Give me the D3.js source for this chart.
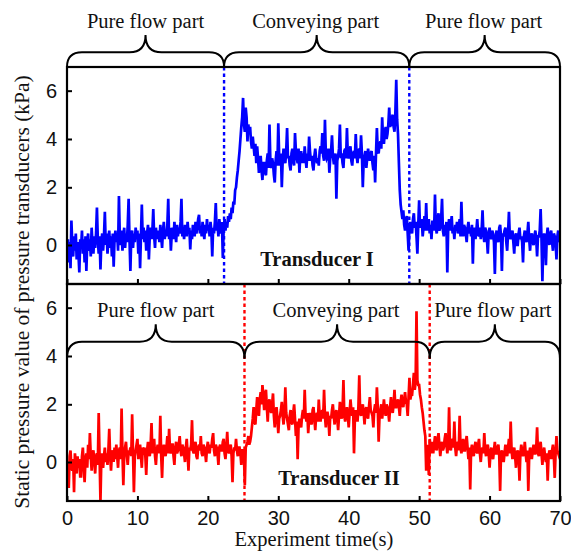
<!DOCTYPE html>
<html>
<head>
<meta charset="utf-8">
<script src="https://cdn.jsdelivr.net/npm/d3@7"></script>
<style>
  body { margin: 0; background: #fff; }
  svg { display: block; font-family: "Liberation Serif", "Times New Roman", serif; }
  .tick text { fill: #111; }
</style>
</head>
<body>
<div id="chart"></div>
<script>
// sample step of both records (s)
const sampleStep = 0.125;

// Transducer I, static pressure (kPa), one row per second
const transducerI = [
  -0.3, 0.2, -0.6, 0.1, -0.8, 0.85, 0.0, -0.4,
  0.3, -0.2, 0.4, -0.5, 0.1, -0.3, -0.95, 0.2,
  -0.1, 0.5, -0.3, 0.2, -0.6, 0.3, -0.9, 0.1,
  0.4, -0.2, 0.2, -0.4, 0.6, 0.0, -0.3, 0.3,
  -0.1, 0.4, 1.3, 0.2, -0.3, 0.3, -0.85, 0.1,
  0.4, -0.2, 0.3, 1.15, 0.0, 0.4, -0.3, 0.2,
  0.5, -0.1, 0.3, -0.4, 0.4, -0.75, 0.2, 0.5,
  0.1, 0.4, -0.2, 1.7, 0.3, 0.0, 0.5, -0.2,
  0.3, 0.6, -0.1, 0.4, 0.1, 0.7, 1.6, 0.2,
  -0.9, 0.3, 0.5, -0.1, 0.4, 0.1, 0.6, 0.2,
  0.5, -0.3, 0.4, -0.8, 0.3, 1.4, 0.2, 0.6,
  0.1, 0.5, -0.2, 0.4, 0.7, -0.5, 0.3, 0.6,
  0.2, 0.5, 1.25, 0.3, -0.1, 0.6, 0.2, 0.5,
  0.4, 0.1, 0.7, 0.3, -0.1, 0.5, 0.8, 0.2,
  0.5, 0.3, 0.7, 1.6, 0.2, 0.6, -0.2, 0.4,
  0.6, 0.2, 0.8, 0.4, 0.1, 0.7, 0.3, 0.6,
  0.4, 0.8, 1.6, 0.3, 0.6, 0.2, 0.7, 0.5,
  0.3, 0.8, 0.4, 0.6, -0.15, 0.5, 0.2, 0.7,
  0.5, 0.3, 0.8, 0.4, 0.6, 0.9, 1.05, 0.4,
  0.6, 0.3, 0.8, 0.5, 0.2, 0.7, 0.4, 0.9,
  0.5, 0.7, 0.3, 0.8, 0.5, -0.4, 0.6, 0.4,
  0.8, 1.45, 0.5, 0.7, 0.3, 0.9, 0.6, 0.4,
  0.8, -0.45, 0.6, 0.9, 0.5, 0.8, 0.6, 1.0,
  0.8, 1.1, 0.9, 1.3, 1.1, 1.5, 1.4, 1.9,
  2.0, 2.4, 2.7, 3.1, 3.5, 4.0, 4.5, 4.9,
  5.7, 4.6, 4.3, 5.3, 4.9, 3.9, 4.6, 4.2,
  4.5, 3.9, 3.6, 4.1, 3.7, 3.3, 3.8, 3.0,
  3.7, 3.2, 2.6, 3.1, 3.3, 2.7, 2.3, 3.0,
  3.0, 2.6, 2.5, 3.1, 3.4, 2.8, 4.6, 3.1,
  2.8, 3.2, 3.0, 2.5, 2.2, 3.1, 3.5, 2.9,
  4.65, 3.3, 2.9, 3.4, 2.0, 3.1, 3.6, 3.2,
  3.0, 3.5, 4.45, 3.2, 3.3, 2.9, 2.7, 3.4,
  3.6, 3.1, 2.9, 4.25, 3.5, 3.2, 3.0, 3.6,
  2.6, 3.3, 3.5, 3.0, 3.4, 3.0, 3.7, 3.2,
  2.8, 3.4, 3.1, 4.1, 3.5, 3.1, 3.3, 2.9,
  2.7, 3.3, 3.6, 3.2, 3.0, 3.2, 2.9, 3.5,
  3.7, 3.4, 4.25, 3.3, 3.1, 4.8, 3.4, 3.2,
  3.3, 3.6, 2.6, 3.2, 3.5, 4.15, 3.3, 3.0,
  3.0, 3.4, 1.6, 3.1, 3.3, 3.6, 4.6, 3.2,
  3.4, 3.0, 2.8, 3.5, 3.6, 3.2, 4.45, 3.3,
  3.2, 3.5, 3.7, 3.1, 2.9, 3.4, 3.5, 3.2,
  4.2, 3.3, 3.0, 3.5, 3.6, 3.2, 4.15, 3.4,
  2.0, 3.1, 3.3, 3.5, 2.8, 3.2, 3.6, 3.3,
  3.1, 3.4, 3.5, 3.0, 2.7, 3.3, 2.2, 3.4,
  4.45, 3.5, 3.4, 3.8, 3.9, 3.6, 4.9, 4.0,
  3.8, 4.3, 4.5, 4.0, 4.2, 4.6, 5.3, 4.5,
  4.6, 4.9, 5.0, 4.5, 4.3, 5.1, 6.45, 4.8,
  4.2, 3.0, 1.9, 1.4, 1.15, 0.9, 1.2, 0.7,
  0.5, 0.9, 1.0, 0.4, -0.2, 0.6, 0.8, 0.5,
  0.4, 0.9, 1.1, 0.6, 0.8, 0.3, -0.3, 0.7,
  1.55, 0.6, 0.7, 0.9, 0.3, 0.6, 1.0, 0.5,
  1.45, 0.5, 0.8, 0.9, 0.4, 0.7, 0.2, 0.8,
  0.8, 0.5, 1.75, 0.6, 0.4, 0.9, 1.1, 0.5,
  0.6, 0.9, 1.6, 0.5, 0.3, 0.7, 0.4, 0.8,
  -0.95, 0.6, 0.9, 0.5, 0.7, 1.0, 0.4, 0.6,
  0.2, 0.7, 0.5, 0.8, 0.4, 0.6, 0.9, 0.3,
  1.5, 0.5, 0.3, 0.7, 0.6, 0.4, 0.1, 0.6,
  0.8, 0.4, 0.6, 0.3, 0.7, -0.65, 0.5, 0.6,
  0.2, 0.5, 0.9, 0.4, 0.3, 0.6, 0.2, 0.5,
  1.2, 0.4, 0.1, 0.6, 0.5, 0.2, -0.3, 0.4,
  0.6, 0.3, 0.2, 0.5, 0.4, 0.1, -1.0, 0.3,
  0.5, 0.2, 0.1, 0.6, 0.7, 0.3, -0.9, 0.4,
  0.3, 0.5, 0.6, 0.1, -0.2, 0.4, 1.15, 0.3,
  0.2, 0.4, 0.5, 0.1, -0.3, 0.3, 0.4, 0.0,
  0.0, 0.4, 0.6, 0.2, 0.3, 0.1, -0.6, 0.3,
  0.5, 0.2, 0.1, 0.4, 0.8, 0.2, -0.2, 0.3,
  0.4, 0.1, 0.0, 0.3, 0.5, 0.2, -0.4, 0.3,
  0.3, 0.5, 1.25, 0.2, -1.25, 0.1, 0.4, 0.2,
  -0.7, 0.3, 0.6, 0.2, 0.0, 0.4, 0.5, 0.1,
  -0.2, 0.4, 0.3, 0.1, -0.5, 0.3, 0.5, 0.2,
  0.1
];

// Transducer II, static pressure (kPa), one row per second
const transducerII = [
  0.0, -0.3, -0.9, 0.2, 0.4, -0.2, -0.3, 0.1,
  -1.05, 0.3, 0.0, -0.4, 0.2, -0.2, 0.1, -0.5,
  -0.5, 0.2, 0.5, -0.1, -0.7, 0.1, 0.3, -0.2,
  0.6, 0.1, 1.0, 0.2, -0.3, 0.3, 0.4, 0.0,
  -0.4, 0.2, 0.3, -0.1, 1.7, 0.2, -1.35, 0.1,
  0.3, -0.2, 0.2, 0.5, 0.0, 0.3, -0.1, 0.4,
  1.15, 0.2, -0.3, 0.3, 0.4, 0.0, 0.5, 0.1,
  0.6, 0.2, -0.2, 0.4, 0.5, 0.1, 1.85, 0.3,
  -0.8, 0.3, 0.5, 0.7, 0.2, -0.1, 0.4, 0.3,
  0.5, 0.2, 1.65, 0.3, -1.05, 0.2, 0.4, 0.6,
  0.8, 0.1, 0.4, 0.6, 0.2, -0.2, 0.5, 0.3,
  0.5, 0.2, -0.45, 0.4, 0.7, 0.3, 0.2, 0.6,
  1.35, 0.3, 0.5, 0.8, 0.2, -0.1, 0.4, 0.6,
  0.5, 0.3, 1.6, 0.2, -0.55, 0.4, 0.6, 0.3,
  0.2, 0.5, 0.9, 0.3, 1.15, 0.4, 0.3, 0.6,
  0.6, 0.2, -0.1, 0.5, 0.7, 0.3, 0.4, 0.6,
  0.9, 0.4, 0.2, 0.6, 0.5, 0.3, 0.0, 0.5,
  0.8, 0.3, -0.3, 0.5, 0.4, 0.6, 1.45, 0.4,
  0.3, 0.6, 0.7, 0.2, 0.1, 0.5, 0.6, 0.4,
  0.9, 0.3, 0.2, 0.6, 0.5, 0.3, 0.0, 0.5,
  0.7, 0.4, 0.3, 0.6, 0.5, 0.8, 1.0, 0.4,
  0.2, 0.6, 0.5, 0.3, -0.1, 0.5, 0.6, 0.4,
  0.4, 0.7, 0.8, 0.3, 0.1, 0.5, 1.05, 0.4,
  0.3, 0.5, 0.6, 0.2, -0.7, 0.3, 0.5, 0.4,
  0.8, 0.4, 0.2, 0.5, 0.5, 0.3, -0.1, 0.4,
  0.4, 0.2, -0.8, 0.5, 0.6, 0.7, 0.9, 0.6,
  0.7, 0.9, 1.2, 1.5, 1.9, 1.4, 1.3, 1.8,
  2.3, 1.8, 1.6, 2.2, 2.5, 2.0, 2.8, 2.3,
  1.8, 2.4, 2.6, 1.9, 1.4, 2.1, 2.2, 1.8,
  1.7, 2.0, 2.45, 1.6, 1.2, 1.7, 1.9, 1.5,
  1.0, 1.5, 1.6, 1.8, 2.1, 1.6, 1.3, 1.7,
  2.7, 1.7, 1.5, 1.3, 1.1, 1.6, 1.8, 1.4,
  1.3, 1.7, 2.0, 1.5, 0.9, 1.4, 0.1, 1.2,
  1.5, 1.3, 1.2, 1.6, 1.8, 1.5, 2.6, 1.6,
  1.4, 1.7, 1.0, 1.5, 1.7, 1.4, 1.3, 1.8,
  1.9, 1.5, 1.1, 1.6, 1.7, 1.4, 2.2, 1.6,
  1.4, 1.7, 1.8, 1.5, 2.6, 1.6, 1.2, 1.7,
  1.7, 1.5, 0.9, 1.6, 1.5, 1.8, 2.0, 1.6,
  1.3, 1.7, 1.8, 1.5, 1.1, 1.6, 2.1, 1.7,
  1.5, 1.8, 3.0, 1.6, 1.4, 1.7, 1.9, 1.6,
  1.2, 1.7, 2.2, 1.8, 1.6, 1.9, 0.3, 1.5,
  1.8, 1.6, 1.4, 1.9, 3.2, 1.7, 1.6, 1.8,
  2.0, 1.7, 1.3, 1.8, 1.9, 1.6, 1.5, 1.9,
  2.3, 1.8, 1.7, 1.6, 1.2, 1.8, 2.0, 1.7,
  2.7, 1.9, 0.7, 1.6, 1.8, 2.0, 1.5, 1.8,
  2.2, 1.8, 1.6, 2.0, 1.9, 1.7, 1.4, 1.9,
  2.3, 1.8, 1.7, 2.0, 2.6, 1.9, 1.9, 2.1,
  2.2, 1.9, 1.6, 2.1, 2.4, 2.0, 1.9, 2.2,
  2.5, 2.1, 2.0, 1.6, 2.3, 3.1, 2.2, 2.4,
  2.4, 2.8, 3.3, 2.6, 2.9, 5.85, 3.0, 2.8,
  2.8, 2.4, 2.2, 1.9, 1.7, 1.4, 1.1, 0.9,
  -0.3, 0.6, 0.4, -0.45, 0.8, 0.5, 0.3, 0.7,
  0.3, 0.6, 0.9, 0.5, 0.4, 0.8, 1.0, 0.6,
  0.2, 0.5, 0.7, 0.4, 0.5, 0.8, 1.0, 0.6,
  0.3, 0.6, 1.9, 0.5, 0.4, 0.7, 0.8, 0.5,
  1.4, 0.5, 0.2, 0.6, 0.7, 0.4, 1.6, 0.5,
  0.3, 0.6, 0.8, 0.4, 0.4, 0.7, 0.9, 0.5,
  0.1, 0.5, -0.95, 0.4, 0.6, 0.3, 0.2, 0.5,
  0.7, 0.4, 0.3, 0.6, 0.8, 0.3, 0.0, 0.4,
  0.5, 0.3, 1.0, 0.4, 0.2, 0.5, 0.6, 0.3,
  -0.2, 0.3, 0.5, 0.2, 0.1, 0.4, 0.7, 0.3,
  0.3, 0.5, 0.6, 0.2, -1.0, 0.3, 0.4, 0.2,
  0.0, 0.3, 0.6, 0.4, 0.2, 0.5, 0.8, 0.3,
  1.4, 0.4, 0.1, 0.3, 0.5, 0.2, -0.2, 0.3,
  0.4, 0.2, -0.65, 0.3, 0.6, 0.4, 0.2, 0.3,
  0.7, 0.3, 0.0, 0.4, -1.0, 0.2, 0.5, 0.3,
  0.1, 0.4, 0.6, 0.3, 0.3, 0.5, 1.2, 0.3,
  0.2, 0.5, 0.7, 0.3, -0.1, 0.3, 0.5, 0.2,
  0.0, 0.3, -0.65, 0.2, 0.4, 0.3, 0.1, 0.4,
  0.6, 0.2, -0.55, 0.3, 0.9, 0.4, 0.3, 0.2,
  0.1
];

// boundaries between pure flow and conveying parts (s)
const boundsI = [22.3, 48.6];
const boundsII = [25.2, 51.5];
const partNames = ["Pure flow part", "Conveying part", "Pure flow part"];

const timeTicks = [0, 10, 20, 30, 40, 50, 60, 70];
const pressureTicks = [0, 2, 4, 6];

const W = 571, H = 553;
const left = 67, right = 560;
const panelH = 217;

const svg = d3.select("#chart").append("svg")
  .attr("width", W)
  .attr("height", H);

const x = d3.scaleLinear().domain([0, 70]).range([left, right]);
// the printed axis places the zero tick a little lower than a straight scale would
const y = d3.scaleLinear().domain([-1.35, 0, 2, 6.98]).range([panelH, 178, 120.3, 0]);

const line = d3.line()
  .x((d, i) => x(i * sampleStep))
  .y(d => y(d));

function brace(x0, x1, yEnd, yLine, yTip) {
  const xm = (x0 + x1) / 2, r = 15, rt = 16;
  return `M${x0},${yEnd} Q${x0},${yLine} ${x0 + r},${yLine}` +
    ` L${xm - rt},${yLine} Q${xm},${yLine} ${xm},${yTip}` +
    ` Q${xm},${yLine} ${xm + rt},${yLine}` +
    ` L${x1 - r},${yLine} Q${x1},${yLine} ${x1},${yEnd}`;
}

function drawPanel(top, values, bounds, color, name, braceY, labelPos) {
  const g = svg.append("g").attr("transform", `translate(0,${top})`);

  g.append("clipPath").attr("id", "clip-" + top)
    .append("rect")
    .attr("x", left).attr("y", 0)
    .attr("width", right - left).attr("height", panelH);

  g.append("path")
    .datum(values)
    .attr("clip-path", `url(#clip-${top})`)
    .attr("fill", "none")
    .attr("stroke", color)
    .attr("stroke-width", 2.7)
    .attr("d", line);

  g.selectAll(".bound")
    .data(bounds)
    .enter()
    .append("line")
    .attr("x1", d => x(d)).attr("x2", d => x(d))
    .attr("y1", 0).attr("y2", panelH)
    .attr("stroke", color)
    .attr("stroke-width", 2.4)
    .attr("stroke-dasharray", "3.5,3");

  const yAxis = g.append("g")
    .attr("transform", `translate(${left},0)`)
    .call(d3.axisLeft(y).tickValues(pressureTicks).tickSize(-5).tickPadding(10));
  yAxis.select(".domain").remove();

  const xAxis = g.append("g")
    .attr("transform", `translate(0,${panelH})`)
    .call(d3.axisBottom(x).tickValues(timeTicks).tickSize(-5).tickPadding(10));
  xAxis.select(".domain").remove();
  if (top < 100) xAxis.selectAll("text").remove();

  g.selectAll(".tick line").attr("stroke", "#000").attr("stroke-width", 2);
  g.selectAll(".tick text").style("font-size", "20px").style("font-family", "inherit");

  g.append("rect")
    .attr("x", left).attr("y", 0)
    .attr("width", right - left).attr("height", panelH)
    .attr("fill", "none")
    .attr("stroke", "#000")
    .attr("stroke-width", 2.2);

  // part braces and labels
  const edges = [0, ...bounds, 70];
  partNames.forEach((p, i) => {
    const x0 = x(edges[i]), x1 = x(edges[i + 1]);
    g.append("path")
      .attr("d", brace(x0, x1, braceY.end, braceY.line, braceY.tip))
      .attr("fill", "none")
      .attr("stroke", "#000")
      .attr("stroke-width", 2);
    g.append("text")
      .attr("x", (x0 + x1) / 2 + labelPos.dx[i])
      .attr("y", labelPos.y)
      .attr("text-anchor", "middle")
      .style("font-size", "20.5px")
      .attr("fill", "#111")
      .text(p);
  });

  g.append("text")
    .attr("x", labelPos.nameX)
    .attr("y", labelPos.nameY)
    .attr("text-anchor", "middle")
    .style("font-size", "20.5px")
    .style("font-weight", "bold")
    .attr("fill", "#111")
    .text(name);
}

drawPanel(67, transducerI, boundsI, "#0000ff", "Transducer I",
  { end: 0, line: -14.7, tip: -32 },
  { y: -39, dx: [0, -1, -1], nameX: 317, nameY: 199 });

drawPanel(284, transducerII, boundsII, "#ff0000", "Transducer II",
  { end: 74.5, line: 57.7, tip: 40.3 },
  { y: 33, dx: [0, -1, -2], nameX: 339, nameY: 201 });

svg.append("text")
  .attr("transform", `translate(29,292) rotate(-90)`)
  .attr("text-anchor", "middle")
  .style("font-size", "21.5px")
  .attr("fill", "#111")
  .text("Static pressure value of pressure transducers (kPa)");

svg.append("text")
  .attr("x", 314)
  .attr("y", 546)
  .attr("text-anchor", "middle")
  .style("font-size", "20.5px")
  .attr("fill", "#111")
  .text("Experiment time(s)");
</script>
</body>
</html>
